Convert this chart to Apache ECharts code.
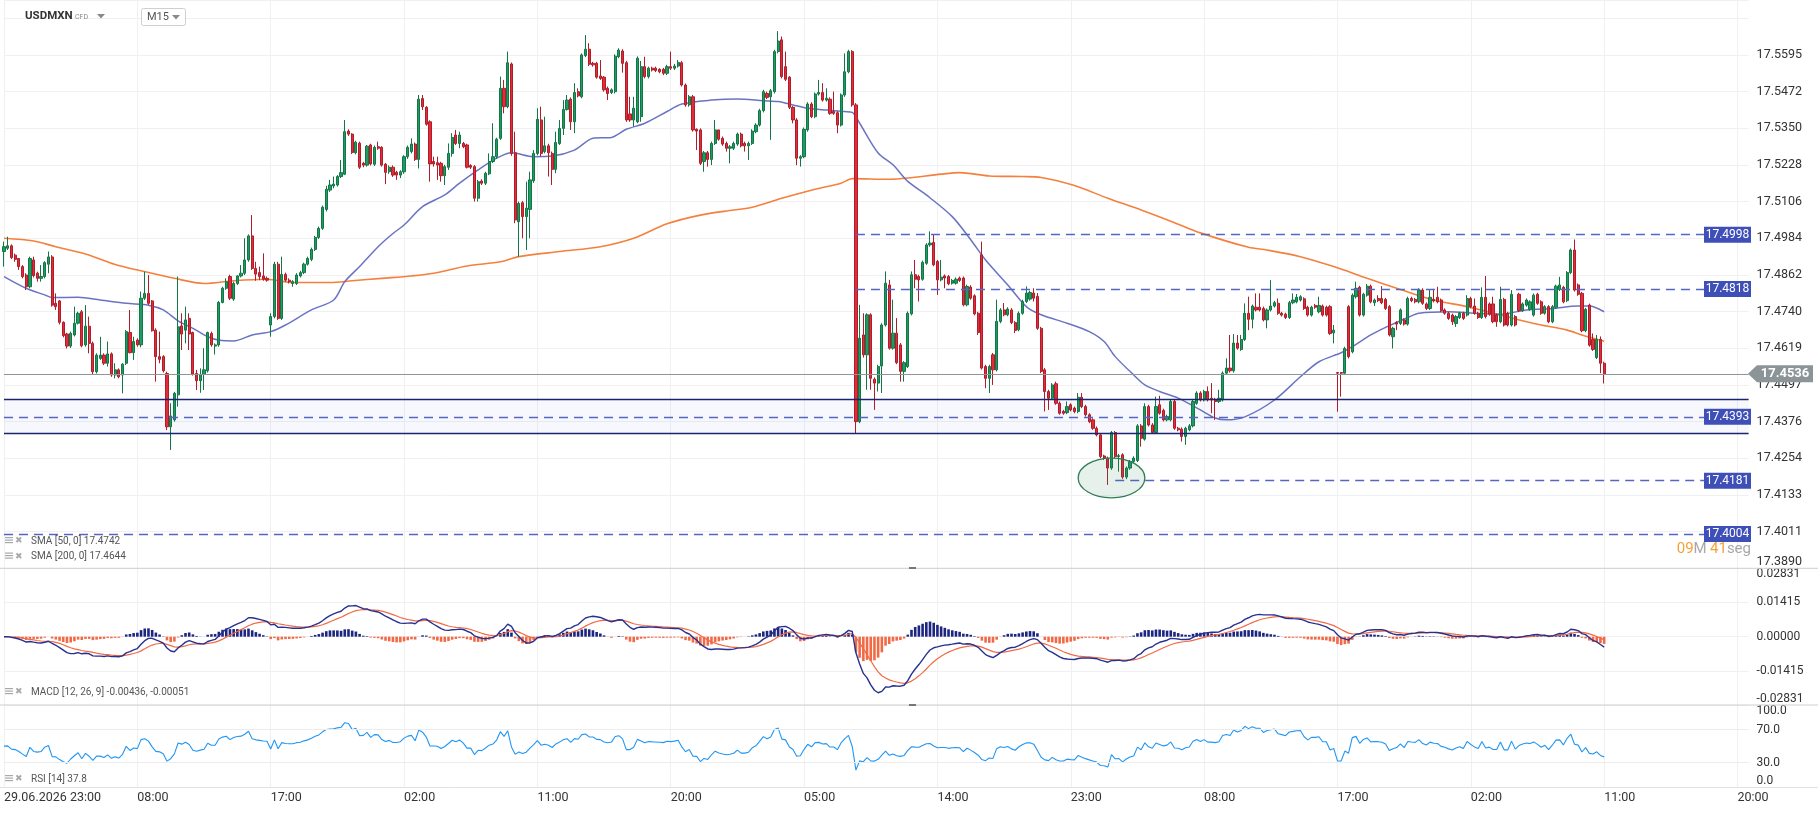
<!DOCTYPE html>
<html><head><meta charset="utf-8">
<script src="https://cdn.jsdelivr.net/npm/echarts@6/dist/echarts.min.js"></script>
<style>html,body{margin:0;padding:0;background:#fff}#c{width:1818px;height:813px}</style>
</head><body><div id="c"></div>
<script>
// ---------- tick labels ----------
const timeTicks = ['29.06.2026 23:00','08:00','17:00','02:00','11:00','20:00','05:00','14:00','23:00','08:00','17:00','02:00','11:00','20:00'];
const barsPerTick = 36;           // 9 hours of 15-minute bars
const categoryCount = 472;
const priceTicks = ['17.3890','17.4011','17.4133','17.4254','17.4376','17.4497','17.4619','17.4740','17.4862','17.4984','17.5106','17.5228','17.5350','17.5472','17.5595'];
const priceMin = 17.3890, priceStep = 0.012179, priceMax = 17.57774;
const macdTicks = ['-0.02831','-0.01415','0.00000','0.01415','0.02831'];
const macdMin = -0.02831, macdStep = 0.014155;
const rsiTicks = {0:'0.0',30:'30.0',70:'70.0',100:'100.0'};

// ---------- candles (15-minute bars) ----------
const opens = [
17.4942,17.4953,17.4961,17.4930,17.4919,17.4892,17.4864,17.4825,17.4914,17.4870,
17.4853,17.4859,17.4900,17.4924,17.4770,17.4778,17.4707,17.4668,17.4628,17.4665,
17.4704,17.4742,17.4632,17.4694,17.4637,17.4543,17.4587,17.4598,17.4571,17.4602,
17.4532,17.4549,17.4532,17.4571,17.4673,17.4606,17.4648,17.4632,17.4787,17.4803,
17.4778,17.4681,17.4593,17.4593,17.4537,17.4360,17.4383,17.4466,17.4695,17.4681,
17.4720,17.4673,17.4537,17.4513,17.4534,17.4546,17.4670,17.4628,17.4632,17.4773,
17.4820,17.4859,17.4784,17.4836,17.4861,17.4870,17.4914,17.4994,17.4886,17.4872,
17.4861,17.4853,17.4698,17.4726,17.4900,17.4720,17.4866,17.4847,17.4836,17.4836,
17.4861,17.4872,17.4900,17.4916,17.4949,17.4989,17.5019,17.5082,17.5146,17.5160,
17.5163,17.5191,17.5199,17.5342,17.5332,17.5270,17.5302,17.5235,17.5229,17.5296,
17.5232,17.5290,17.5288,17.5232,17.5207,17.5222,17.5205,17.5196,17.5207,17.5257,
17.5274,17.5299,17.5248,17.5450,17.5421,17.5373,17.5241,17.5237,17.5235,17.5194,
17.5222,17.5268,17.5329,17.5301,17.5301,17.5296,17.5228,17.5224,17.5119,17.5176,
17.5169,17.5200,17.5241,17.5257,17.5318,17.5484,17.5423,17.5565,17.5270,17.5041,
17.5104,17.5058,17.5082,17.5177,17.5268,17.5379,17.5274,17.5293,17.5268,17.5215,
17.5301,17.5351,17.5414,17.5448,17.5373,17.5473,17.5456,17.5593,17.5614,17.5567,
17.5567,17.5525,17.5521,17.5484,17.5470,17.5473,17.5589,17.5608,17.5569,17.5399,
17.5379,17.5373,17.5390,17.5556,17.5523,17.5551,17.5551,17.5547,17.5547,17.5534,
17.5556,17.5551,17.5558,17.5569,17.5495,17.5429,17.5456,17.5348,17.5346,17.5241,
17.5270,17.5248,17.5301,17.5346,17.5318,17.5301,17.5285,17.5285,17.5299,17.5332,
17.5301,17.5293,17.5301,17.5340,17.5362,17.5410,17.5467,17.5456,17.5473,17.5606,
17.5645,17.5556,17.5521,17.5421,17.5379,17.5252,17.5257,17.5346,17.5432,17.5390,
17.5465,17.5470,17.5445,17.5448,17.5407,17.5403,17.5362,17.5462,17.5539,17.5606,
17.5429,17.4377,17.4665,17.4599,17.4732,17.4518,17.4505,17.4562,17.4698,17.4831,
17.4621,17.4671,17.4632,17.4544,17.4560,17.4735,17.4865,17.4859,17.4850,17.4903,
17.4964,17.4972,17.4909,17.4848,17.4861,17.4859,17.4837,17.4837,17.4854,17.4854,
17.4765,17.4824,17.4795,17.4737,17.4931,17.4560,17.4521,17.4599,17.4549,17.4710,
17.4748,17.4732,17.4748,17.4706,17.4682,17.4737,17.4776,17.4784,17.4804,17.4793,
17.4687,17.4549,17.4477,17.4455,17.4503,17.4438,17.4411,17.4407,17.4433,17.4422,
17.4411,17.4458,17.4427,17.4400,17.4383,17.4355,17.4333,17.4263,17.4256,17.4223,
17.4341,17.4261,17.4267,17.4193,17.4223,17.4245,17.4248,17.4363,17.4319,17.4427,
17.4366,17.4341,17.4433,17.4414,17.4383,17.4383,17.4444,17.4355,17.4352,17.4328,
17.4350,17.4363,17.4438,17.4472,17.4449,17.4477,17.4455,17.4451,17.4444,17.4449,
17.4538,17.4555,17.4546,17.4638,17.4617,17.4650,17.4737,17.4717,17.4757,17.4757,
17.4753,17.4715,17.4748,17.4761,17.4770,17.4737,17.4734,17.4723,17.4772,17.4775,
17.4781,17.4785,17.4757,17.4731,17.4763,17.4742,17.4761,17.4757,17.4759,17.4672,
17.4540,17.4540,17.4538,17.4759,17.4609,17.4792,17.4823,17.4731,17.4797,17.4827,
17.4772,17.4786,17.4786,17.4783,17.4759,17.4659,17.4706,17.4703,17.4715,17.4701,
17.4786,17.4783,17.4775,17.4814,17.4768,17.4753,17.4783,17.4790,17.4781,17.4748,
17.4737,17.4731,17.4703,17.4723,17.4737,17.4731,17.4786,17.4761,17.4737,17.4723,
17.4790,17.4768,17.4768,17.4731,17.4709,17.4783,17.4737,17.4698,17.4726,17.4800,
17.4746,17.4764,17.4750,17.4731,17.4800,17.4775,17.4737,17.4759,17.4709,17.4757,
17.4816,17.4823,17.4779,17.4872,17.4947,17.4831,17.4803,17.4679,17.4764,17.4650,
17.4590,17.4650,17.4571];
const closes = [
17.4958,17.4961,17.4922,17.4916,17.4892,17.4859,17.4825,17.4919,17.4862,17.4853,
17.4859,17.4905,17.4924,17.4764,17.4759,17.4707,17.4663,17.4628,17.4670,17.4704,
17.4737,17.4629,17.4694,17.4637,17.4543,17.4598,17.4598,17.4571,17.4602,17.4532,
17.4549,17.4526,17.4568,17.4676,17.4606,17.4643,17.4632,17.4787,17.4803,17.4770,
17.4679,17.4593,17.4584,17.4546,17.4360,17.4396,17.4471,17.4692,17.4668,17.4715,
17.4668,17.4535,17.4513,17.4534,17.4549,17.4673,17.4632,17.4632,17.4773,17.4820,
17.4842,17.4787,17.4836,17.4861,17.4870,17.4914,17.4994,17.4886,17.4867,17.4859,
17.4850,17.4847,17.4726,17.4900,17.4720,17.4866,17.4847,17.4842,17.4842,17.4864,
17.4872,17.4900,17.4919,17.4949,17.4989,17.5019,17.5089,17.5149,17.5163,17.5166,
17.5191,17.5204,17.5340,17.5332,17.5271,17.5305,17.5222,17.5229,17.5292,17.5233,
17.5288,17.5285,17.5229,17.5205,17.5222,17.5196,17.5196,17.5207,17.5257,17.5288,
17.5299,17.5248,17.5448,17.5423,17.5365,17.5233,17.5233,17.5229,17.5194,17.5224,
17.5268,17.5321,17.5301,17.5329,17.5290,17.5222,17.5222,17.5119,17.5174,17.5169,
17.5202,17.5241,17.5257,17.5315,17.5484,17.5423,17.5569,17.5268,17.5047,17.5102,
17.5058,17.5086,17.5180,17.5268,17.5381,17.5268,17.5293,17.5270,17.5215,17.5304,
17.5351,17.5414,17.5445,17.5373,17.5470,17.5459,17.5595,17.5614,17.5564,17.5562,
17.5521,17.5517,17.5479,17.5467,17.5479,17.5591,17.5611,17.5567,17.5379,17.5379,
17.5418,17.5584,17.5556,17.5523,17.5551,17.5545,17.5543,17.5539,17.5534,17.5556,
17.5551,17.5558,17.5570,17.5495,17.5429,17.5456,17.5346,17.5342,17.5235,17.5270,
17.5248,17.5301,17.5346,17.5315,17.5299,17.5285,17.5290,17.5301,17.5332,17.5293,
17.5293,17.5301,17.5342,17.5362,17.5410,17.5473,17.5454,17.5476,17.5606,17.5641,
17.5523,17.5514,17.5421,17.5379,17.5252,17.5257,17.5348,17.5432,17.5390,17.5465,
17.5470,17.5445,17.5451,17.5401,17.5401,17.5362,17.5462,17.5539,17.5606,17.5429,
17.4377,17.4654,17.4599,17.4732,17.4521,17.4505,17.4560,17.4698,17.4837,17.4621,
17.4671,17.4573,17.4544,17.4573,17.4737,17.4865,17.4850,17.4848,17.4906,17.4964,
17.4970,17.4898,17.4848,17.4857,17.4854,17.4835,17.4846,17.4850,17.4846,17.4765,
17.4826,17.4787,17.4735,17.4673,17.4555,17.4521,17.4560,17.4549,17.4710,17.4748,
17.4732,17.4751,17.4706,17.4680,17.4737,17.4776,17.4804,17.4806,17.4787,17.4687,
17.4544,17.4477,17.4455,17.4499,17.4438,17.4405,17.4405,17.4427,17.4416,17.4411,
17.4458,17.4427,17.4400,17.4377,17.4355,17.4333,17.4261,17.4256,17.4223,17.4341,
17.4261,17.4264,17.4193,17.4223,17.4245,17.4256,17.4363,17.4322,17.4427,17.4366,
17.4341,17.4427,17.4405,17.4383,17.4394,17.4444,17.4355,17.4350,17.4328,17.4355,
17.4363,17.4444,17.4472,17.4449,17.4477,17.4449,17.4449,17.4444,17.4455,17.4538,
17.4555,17.4546,17.4638,17.4621,17.4650,17.4737,17.4717,17.4761,17.4748,17.4748,
17.4715,17.4748,17.4761,17.4772,17.4737,17.4731,17.4723,17.4772,17.4781,17.4790,
17.4792,17.4753,17.4731,17.4757,17.4757,17.4763,17.4731,17.4731,17.4670,17.4681,
17.4538,17.4538,17.4620,17.4593,17.4797,17.4820,17.4731,17.4800,17.4827,17.4775,
17.4781,17.4779,17.4772,17.4753,17.4665,17.4687,17.4701,17.4748,17.4701,17.4786,
17.4779,17.4775,17.4814,17.4770,17.4753,17.4790,17.4778,17.4775,17.4746,17.4737,
17.4720,17.4709,17.4726,17.4737,17.4720,17.4786,17.4759,17.4737,17.4723,17.4790,
17.4726,17.4734,17.4709,17.4709,17.4783,17.4698,17.4698,17.4800,17.4698,17.4746,
17.4768,17.4781,17.4775,17.4797,17.4770,17.4737,17.4759,17.4709,17.4759,17.4827,
17.4831,17.4775,17.4872,17.4947,17.4814,17.4800,17.4679,17.4750,17.4631,17.4617,
17.4650,17.4571,17.4536];
const highs = [
17.4975,17.4991,17.4966,17.4935,17.4919,17.4897,17.4870,17.4925,17.4925,17.4875,
17.4897,17.4910,17.4942,17.4930,17.4803,17.4781,17.4710,17.4672,17.4676,17.4759,
17.4742,17.4748,17.4764,17.4726,17.4643,17.4604,17.4659,17.4604,17.4643,17.4607,
17.4571,17.4554,17.4571,17.4681,17.4748,17.4659,17.4654,17.4809,17.4875,17.4864,
17.4781,17.4687,17.4676,17.4598,17.4543,17.4438,17.4476,17.4859,17.4737,17.4759,
17.4737,17.4676,17.4549,17.4554,17.4621,17.4676,17.4676,17.4637,17.4778,17.4825,
17.4853,17.4865,17.4842,17.4864,17.4897,17.4986,17.4999,17.5063,17.4908,17.4892,
17.4936,17.4859,17.4737,17.4908,17.4908,17.4925,17.4872,17.4853,17.4847,17.4870,
17.4878,17.4905,17.4925,17.4955,17.4994,17.5025,17.5095,17.5160,17.5180,17.5191,
17.5196,17.5246,17.5379,17.5348,17.5335,17.5310,17.5307,17.5240,17.5296,17.5300,
17.5294,17.5307,17.5292,17.5236,17.5228,17.5228,17.5210,17.5212,17.5262,17.5294,
17.5318,17.5304,17.5462,17.5462,17.5425,17.5378,17.5257,17.5257,17.5240,17.5230,
17.5301,17.5335,17.5346,17.5340,17.5306,17.5300,17.5232,17.5229,17.5180,17.5182,
17.5207,17.5268,17.5368,17.5320,17.5523,17.5512,17.5606,17.5570,17.5340,17.5108,
17.5110,17.5174,17.5207,17.5279,17.5418,17.5423,17.5390,17.5300,17.5274,17.5340,
17.5379,17.5445,17.5462,17.5454,17.5501,17.5484,17.5600,17.5661,17.5634,17.5572,
17.5572,17.5578,17.5525,17.5490,17.5484,17.5597,17.5617,17.5614,17.5575,17.5456,
17.5456,17.5590,17.5575,17.5589,17.5556,17.5556,17.5556,17.5551,17.5552,17.5562,
17.5606,17.5565,17.5578,17.5575,17.5500,17.5462,17.5462,17.5351,17.5351,17.5276,
17.5276,17.5307,17.5379,17.5346,17.5324,17.5307,17.5296,17.5307,17.5337,17.5337,
17.5307,17.5307,17.5348,17.5368,17.5416,17.5479,17.5473,17.5482,17.5612,17.5674,
17.5656,17.5606,17.5525,17.5425,17.5385,17.5262,17.5354,17.5438,17.5438,17.5470,
17.5512,17.5501,17.5484,17.5454,17.5473,17.5408,17.5467,17.5600,17.5612,17.5611,
17.5435,17.4765,17.4737,17.4737,17.4737,17.4524,17.4566,17.4704,17.4876,17.4848,
17.4782,17.4721,17.4638,17.4578,17.4743,17.4876,17.4914,17.4865,17.4912,17.4970,
17.5009,17.4998,17.4914,17.4914,17.4866,17.4864,17.4851,17.4856,17.4859,17.4859,
17.4832,17.4830,17.4800,17.4742,17.4975,17.4566,17.4566,17.4605,17.4782,17.4754,
17.4771,17.4757,17.4754,17.4711,17.4743,17.4782,17.4826,17.4812,17.4820,17.4804,
17.4692,17.4555,17.4483,17.4505,17.4510,17.4444,17.4416,17.4444,17.4438,17.4427,
17.4472,17.4472,17.4433,17.4405,17.4388,17.4361,17.4339,17.4267,17.4261,17.4346,
17.4346,17.4270,17.4272,17.4228,17.4250,17.4262,17.4369,17.4369,17.4438,17.4433,
17.4372,17.4460,17.4463,17.4420,17.4400,17.4450,17.4450,17.4360,17.4358,17.4360,
17.4369,17.4450,17.4478,17.4478,17.4483,17.4494,17.4505,17.4456,17.4483,17.4544,
17.4587,17.4665,17.4668,17.4665,17.4665,17.4770,17.4792,17.4766,17.4803,17.4803,
17.4759,17.4753,17.4847,17.4778,17.4786,17.4742,17.4739,17.4778,17.4803,17.4801,
17.4797,17.4790,17.4762,17.4762,17.4768,17.4792,17.4766,17.4762,17.4764,17.4698,
17.4542,17.4542,17.4626,17.4764,17.4803,17.4842,17.4828,17.4805,17.4834,17.4832,
17.4786,17.4797,17.4827,17.4788,17.4764,17.4692,17.4711,17.4753,17.4720,17.4792,
17.4792,17.4788,17.4820,17.4820,17.4773,17.4814,17.4818,17.4825,17.4786,17.4753,
17.4742,17.4736,17.4731,17.4742,17.4742,17.4797,17.4792,17.4786,17.4742,17.4823,
17.4861,17.4773,17.4792,17.4736,17.4825,17.4788,17.4742,17.4814,17.4731,17.4805,
17.4773,17.4786,17.4780,17.4803,17.4805,17.4780,17.4764,17.4764,17.4764,17.4832,
17.4858,17.4828,17.4877,17.4952,17.4982,17.4836,17.4808,17.4755,17.4769,17.4670,
17.4665,17.4660,17.4576];
const lows = [
17.4892,17.4947,17.4917,17.4908,17.4881,17.4853,17.4814,17.4820,17.4856,17.4842,
17.4842,17.4853,17.4870,17.4759,17.4748,17.4700,17.4657,17.4620,17.4622,17.4660,
17.4700,17.4624,17.4626,17.4604,17.4532,17.4537,17.4582,17.4565,17.4560,17.4526,
17.4521,17.4521,17.4471,17.4565,17.4604,17.4582,17.4626,17.4624,17.4781,17.4765,
17.4676,17.4510,17.4571,17.4540,17.4349,17.4283,17.4377,17.4427,17.4615,17.4637,
17.4615,17.4530,17.4482,17.4473,17.4482,17.4540,17.4626,17.4600,17.4626,17.4770,
17.4815,17.4781,17.4778,17.4831,17.4856,17.4864,17.4908,17.4881,17.4845,17.4847,
17.4845,17.4842,17.4659,17.4720,17.4715,17.4715,17.4842,17.4836,17.4825,17.4831,
17.4856,17.4867,17.4895,17.4910,17.4944,17.4984,17.5014,17.5075,17.5140,17.5152,
17.5158,17.5186,17.5196,17.5326,17.5266,17.5265,17.5216,17.5222,17.5224,17.5228,
17.5226,17.5280,17.5224,17.5166,17.5200,17.5190,17.5180,17.5186,17.5200,17.5250,
17.5268,17.5243,17.5218,17.5412,17.5360,17.5174,17.5224,17.5180,17.5174,17.5163,
17.5213,17.5257,17.5296,17.5285,17.5285,17.5218,17.5216,17.5108,17.5108,17.5163,
17.5163,17.5196,17.5236,17.5250,17.5313,17.5401,17.5418,17.5260,17.5036,17.4925,
17.4986,17.4947,17.4986,17.5170,17.5262,17.5257,17.5268,17.5191,17.5163,17.5202,
17.5296,17.5329,17.5410,17.5346,17.5335,17.5454,17.5451,17.5588,17.5558,17.5556,
17.5516,17.5512,17.5473,17.5445,17.5465,17.5467,17.5584,17.5536,17.5373,17.5373,
17.5357,17.5368,17.5373,17.5517,17.5517,17.5540,17.5538,17.5534,17.5528,17.5528,
17.5545,17.5545,17.5553,17.5490,17.5423,17.5423,17.5340,17.5279,17.5229,17.5207,
17.5224,17.5229,17.5296,17.5310,17.5293,17.5274,17.5235,17.5279,17.5293,17.5288,
17.5274,17.5246,17.5296,17.5335,17.5357,17.5404,17.5448,17.5313,17.5467,17.5600,
17.5517,17.5508,17.5415,17.5368,17.5229,17.5224,17.5252,17.5340,17.5385,17.5385,
17.5460,17.5440,17.5440,17.5396,17.5396,17.5335,17.5357,17.5456,17.5534,17.5423,
17.4339,17.4372,17.4590,17.4483,17.4483,17.4416,17.4477,17.4472,17.4693,17.4616,
17.4616,17.4568,17.4510,17.4510,17.4555,17.4730,17.4820,17.4776,17.4845,17.4898,
17.4958,17.4893,17.4798,17.4843,17.4820,17.4830,17.4832,17.4832,17.4841,17.4760,
17.4760,17.4782,17.4730,17.4665,17.4550,17.4488,17.4472,17.4499,17.4544,17.4704,
17.4727,17.4727,17.4701,17.4671,17.4677,17.4732,17.4771,17.4779,17.4776,17.4682,
17.4538,17.4411,17.4416,17.4449,17.4433,17.4400,17.4400,17.4402,17.4411,17.4405,
17.4405,17.4422,17.4394,17.4372,17.4350,17.4328,17.4256,17.4250,17.4167,17.4217,
17.4256,17.4211,17.4187,17.4186,17.4217,17.4240,17.4243,17.4294,17.4314,17.4361,
17.4336,17.4336,17.4400,17.4378,17.4378,17.4378,17.4350,17.4345,17.4311,17.4300,
17.4345,17.4358,17.4433,17.4444,17.4444,17.4444,17.4405,17.4383,17.4439,17.4444,
17.4533,17.4540,17.4540,17.4616,17.4612,17.4645,17.4681,17.4687,17.4743,17.4743,
17.4710,17.4687,17.4743,17.4756,17.4732,17.4726,17.4718,17.4718,17.4767,17.4770,
17.4776,17.4748,17.4726,17.4726,17.4752,17.4737,17.4726,17.4726,17.4665,17.4637,
17.4410,17.4460,17.4532,17.4587,17.4604,17.4786,17.4726,17.4726,17.4792,17.4770,
17.4761,17.4774,17.4767,17.4748,17.4660,17.4620,17.4681,17.4698,17.4696,17.4696,
17.4774,17.4770,17.4770,17.4765,17.4748,17.4748,17.4773,17.4770,17.4741,17.4732,
17.4715,17.4698,17.4692,17.4718,17.4715,17.4726,17.4754,17.4732,17.4718,17.4718,
17.4720,17.4729,17.4704,17.4692,17.4704,17.4693,17.4693,17.4693,17.4693,17.4741,
17.4741,17.4759,17.4745,17.4726,17.4765,17.4732,17.4732,17.4704,17.4704,17.4752,
17.4811,17.4770,17.4774,17.4867,17.4809,17.4795,17.4674,17.4674,17.4626,17.4612,
17.4585,17.4538,17.4504];

// ---------- moving averages: [bar index, value] ----------
const sma50 = [[0,17.4859],[6,17.4820],[11,17.4798],[13,17.4789],[20,17.4790],[26,17.4781],[33,17.4770],[39,17.4764],[43,17.4748],[47,17.4712],[51,17.4687],[55,17.4659],[58,17.4648],[62,17.4645],[67,17.4665],[72,17.4676],[76,17.4698],[83,17.4748],[89,17.4781],[92,17.4842],[96,17.4892],[101,17.4958],[105,17.5002],[108,17.5030],[113,17.5091],[119,17.5130],[123,17.5169],[128,17.5213],[133,17.5252],[137,17.5270],[143,17.5257],[148,17.5259],[154,17.5279],[159,17.5318],[164,17.5321],[168,17.5348],[173,17.5368],[179,17.5407],[183,17.5432],[191,17.5445],[198,17.5449],[205,17.5443],[209,17.5440],[213,17.5429],[217,17.5418],[222,17.5412],[227,17.5407],[229,17.5404],[231,17.5368],[236,17.5269],[240,17.5230],[244,17.5175],[249,17.5130],[256,17.5058],[261,17.4981],[265,17.4914],[271,17.4831],[276,17.4759],[280,17.4732],[287,17.4704],[293,17.4676],[297,17.4643],[300,17.4593],[305,17.4532],[308,17.4499],[312,17.4477],[317,17.4455],[323,17.4416],[327,17.4389],[330,17.4383],[335,17.4393],[343,17.4449],[350,17.4526],[355,17.4576],[361,17.4606],[364,17.4626],[369,17.4665],[373,17.4690],[379,17.4723],[382,17.4737],[390,17.4742],[397,17.4737],[404,17.4734],[411,17.4748],[418,17.4753],[425,17.4761],[428,17.4761],[432,17.4742]];
const sma200 = [[0,17.4986],[8,17.4977],[14,17.4958],[22,17.4934],[30,17.4899],[37,17.4878],[46,17.4853],[54,17.4836],[62,17.4845],[71,17.4850],[78,17.4839],[88,17.4839],[94,17.4845],[102,17.4853],[110,17.4861],[116,17.4870],[125,17.4894],[134,17.4908],[139,17.4925],[150,17.4942],[161,17.4958],[170,17.4986],[179,17.5034],[188,17.5063],[197,17.5080],[202,17.5089],[210,17.5119],[219,17.5149],[226,17.5169],[229,17.5184],[239,17.5182],[244,17.5186],[253,17.5199],[258,17.5204],[266,17.5193],[275,17.5191],[280,17.5188],[289,17.5161],[298,17.5119],[307,17.5080],[316,17.5038],[323,17.5004],[336,17.4956],[341,17.4947],[350,17.4925],[359,17.4892],[368,17.4853],[377,17.4816],[386,17.4781],[395,17.4759],[404,17.4731],[413,17.4703],[422,17.4681],[426,17.4665],[432,17.4644]];

// ---------- drawn levels ----------
const zoneLow = 17.4338, zoneHigh = 17.4451;
const lastPrice = 17.4536;
const fullLevels = [17.4393, 17.4004];
const partialLevels = [[230,17.4998],[230,17.4818],[300,17.4181]];
const levelTags = [17.4998, 17.4818, 17.4393, 17.4181, 17.4004];
const ellipseCenter = [299, 17.4190], ellipseHalfBars = 9, ellipseHalfPrice = 0.0066;

// ---------- indicators derived from the closes ----------
function ema(arr, n){ const k = 2/(n+1); const out=[]; let p = arr[0]; for (let i=0;i<arr.length;i++){ p = i===0 ? arr[0] : p + k*(arr[i]-p); out.push(p);} return out; }
const e12 = ema(closes,12), e26 = ema(closes,26);
const macdLine = e12.map((v,i)=>v-e26[i]);
const signalLine = ema(macdLine,9);
const hist = macdLine.map((v,i)=>v-signalLine[i]);
const rsi = [];
(function(){ let s=0; for(let i=1;i<=14;i++) s+=Math.abs(closes[i]-closes[i-1]); let ag=s/28, al=s/28;
  rsi.push(50);
  for(let i=1;i<closes.length;i++){ const ch=closes[i]-closes[i-1]; ag=(ag*13+Math.max(ch,0))/14; al=(al*13+Math.max(-ch,0))/14; rsi.push(al===0?100:100-100/(1+ag/al)); }
})();

const categories = Array.from({length: categoryCount}, (_, i) => String(i));
const candleData = opens.map((o,i)=>[o, closes[i], lows[i], highs[i]]);

const FONT = 'Roboto, "Noto Sans", sans-serif';
const chart = echarts.init(document.getElementById('c'), null, {renderer:'canvas'});
const gridL = 4, gridR = 69.4;
function xAxisFor(g){
  return {type:'category', gridIndex:g, data:categories, boundaryGap:false,
    axisLine:{show:false}, axisTick:{show:false},
    splitLine:{show:true, interval:barsPerTick-1, lineStyle:{color:'#f0f0f2', width:1}},
    axisLabel: g===2 ? {show:true, interval:barsPerTick-1, align:'left', margin:4, color:'#333', fontSize:12.5, fontFamily:FONT,
      formatter:(v,idx)=> idx % barsPerTick === 0 ? (timeTicks[idx/barsPerTick] || '') : ''} : {show:false}};
}
const option = {
  animation:false, backgroundColor:'#ffffff', textStyle:{fontFamily:FONT},
  grid:[
    {left:gridL, right:gridR, top:0, height:568.3, outerBoundsMode:'none', containLabel:false},
    {left:gridL, right:gridR, top:568, height:137.4, outerBoundsMode:'none', containLabel:false},
    {left:gridL, right:gridR, top:705, height:82.3, outerBoundsMode:'none', containLabel:false}
  ],
  xAxis:[xAxisFor(0), xAxisFor(1), xAxisFor(2)],
  yAxis:[
    {type:'value', gridIndex:0, position:'right', min:priceMin, max:priceMax, interval:priceStep,
     axisLine:{show:false}, axisTick:{show:false}, splitLine:{lineStyle:{color:'#f0f0f2'}},
     axisLabel:{margin:8, color:'#333', fontSize:12.5, fontFamily:FONT, verticalAlignMinLabel:'bottom',
       formatter:v=>{ const k=Math.round((v-priceMin)/priceStep); return Math.abs(priceMin+k*priceStep-v)<1e-7 ? (priceTicks[k]||'') : ''; }}},
    {type:'value', gridIndex:1, position:'right', min:macdMin, max:-macdMin, interval:macdStep,
     axisLine:{show:false}, axisTick:{show:false}, splitLine:{lineStyle:{color:'#f0f0f2'}},
     axisLabel:{margin:8, color:'#333', fontSize:12, fontFamily:FONT, verticalAlignMinLabel:'bottom', verticalAlignMaxLabel:'top',
       formatter:v=>{ const k=Math.round((v-macdMin)/macdStep); return macdTicks[k]||''; }}},
    {type:'value', gridIndex:2, position:'right', min:0, max:100, interval:10,
     axisLine:{show:false}, axisTick:{show:false}, splitLine:{show:false},
     axisLabel:{margin:8, color:'#333', fontSize:12, fontFamily:FONT, verticalAlignMinLabel:'bottom', verticalAlignMaxLabel:'top',
       formatter:v=> rsiTicks[Math.round(v)] || ''}}
  ],
  series:[
    {type:'line', name:'SMA200', xAxisIndex:0, yAxisIndex:0, data:sma200, showSymbol:false, smooth:0.3, z:2,
     lineStyle:{color:'#f5803e', width:1.6}},
    {type:'line', name:'SMA50', xAxisIndex:0, yAxisIndex:0, data:sma50, showSymbol:false, smooth:0.3, z:2,
     lineStyle:{color:'#5a64bd', width:1.5, opacity:0.9}},
    {type:'candlestick', xAxisIndex:0, yAxisIndex:0, data:candleData, barWidth:'72%', clip:false, z:3,
     itemStyle:{color:'#1f9a62', color0:'#df2d3b', borderColor:'#127646', borderColor0:'#b01d29', borderWidth:1},
     markArea:{silent:true, itemStyle:{color:'rgba(80,100,210,0.045)'}, data:[[{yAxis:zoneLow},{yAxis:zoneHigh}]]},
     markLine:{silent:true, precision:6, symbol:['none','none'], label:{show:false}, animation:false,
       data:[
         {yAxis:zoneHigh, lineStyle:{color:'#1b2470', type:'solid', width:1.3}},
         {yAxis:zoneLow, lineStyle:{color:'#1b2470', type:'solid', width:1.3}},
         {yAxis:lastPrice, lineStyle:{color:'#8f9699', type:'solid', width:1.2}},
         ...fullLevels.map(v=>({yAxis:v, lineStyle:{color:'#5565c4', type:[9,6], width:1.3}})),
         ...partialLevels.map(([s,v])=>[{coord:[s,v], lineStyle:{color:'#5565c4', type:[9,6], width:1.3}},{coord:[categoryCount-1,v]}])
       ]}},
    {type:'bar', xAxisIndex:1, yAxisIndex:1, data:hist, barWidth:2.6,
     itemStyle:{color:p=> p.value>=0 ? '#1c2580' : '#f26a45'}},
    {type:'line', xAxisIndex:1, yAxisIndex:1, data:signalLine, showSymbol:false, lineStyle:{color:'#f26a45', width:1.2}},
    {type:'line', xAxisIndex:1, yAxisIndex:1, data:macdLine, showSymbol:false, lineStyle:{color:'#27318f', width:1.4}},
    {type:'line', xAxisIndex:2, yAxisIndex:2, data:rsi, showSymbol:false, lineStyle:{color:'#2196f3', width:1.1},
     markLine:{silent:true, precision:2, symbol:['none','none'], label:{show:false}, data:[{yAxis:70},{yAxis:30}], lineStyle:{color:'#ececee', type:'solid', width:1}}}
  ]
};
chart.setOption(option);

// ---------- overlays positioned through the chart's scales ----------
const g = [];
const py = v => chart.convertToPixel({gridIndex:0}, [0, v])[1];
levelTags.forEach(v=>{
  const y = py(v);
  g.push({type:'rect', shape:{x:1704, y:y-8, width:47, height:16}, style:{fill:'#3f4fb8'}, z:50});
  g.push({type:'text', x:1727.5, y:y, style:{text:v.toFixed(4), fill:'#fff', font:'12px '+FONT, align:'center', verticalAlign:'middle'}, z:51});
});
{
  const y = py(lastPrice);
  g.push({type:'polygon', shape:{points:[[1748,y],[1757,y-8.5],[1813,y-8.5],[1813,y+8.5],[1757,y+8.5]]}, style:{fill:'#8b9497'}, z:50});
  g.push({type:'text', x:1785, y:y, style:{text:lastPrice.toFixed(4), fill:'#fff', font:'bold 13px '+FONT, align:'center', verticalAlign:'middle'}, z:51});
}
{
  const c = chart.convertToPixel({gridIndex:0}, ellipseCenter);
  const r = chart.convertToPixel({gridIndex:0}, [ellipseCenter[0]+ellipseHalfBars, ellipseCenter[1]+ellipseHalfPrice]);
  g.push({type:'ellipse', shape:{cx:c[0], cy:c[1], rx:r[0]-c[0], ry:c[1]-r[1]}, style:{fill:'rgba(60,140,95,0.12)', stroke:'#2f7d55', lineWidth:1.3}, z:40});
}
// pane separators and bottom line
g.push({type:'line', shape:{x1:0,y1:568.3,x2:1818,y2:568.3}, style:{stroke:'#cfcfd2', lineWidth:1}, z:45});
g.push({type:'line', shape:{x1:0,y1:705,x2:1818,y2:705}, style:{stroke:'#cfcfd2', lineWidth:1}, z:45});
g.push({type:'line', shape:{x1:0,y1:787.5,x2:1818,y2:787.5}, style:{stroke:'#e2e2e4', lineWidth:1}, z:45});
g.push({type:'rect', shape:{x:909,y:567,width:7,height:2}, style:{fill:'#777'}, z:46});
g.push({type:'rect', shape:{x:909,y:704,width:7,height:2}, style:{fill:'#777'}, z:46});
// header
g.push({type:'text', x:25, y:16, style:{text:'USDMXN', fill:'#333', font:'bold 11.5px '+FONT, align:'left', verticalAlign:'middle'}, z:60});
g.push({type:'text', x:75, y:17, style:{text:'CFD', fill:'#8a8a8a', font:'7px '+FONT, align:'left', verticalAlign:'middle'}, z:60});
g.push({type:'polygon', shape:{points:[[97,14],[105,14],[101,18.5]]}, style:{fill:'#8a8a8a'}, z:60});
g.push({type:'rect', shape:{x:141.5,y:8.5,width:44,height:17, r:2}, style:{fill:'#fff', stroke:'#cfcfcf', lineWidth:1}, z:60});
g.push({type:'text', x:147, y:17, style:{text:'M15', fill:'#555', font:'11px '+FONT, align:'left', verticalAlign:'middle'}, z:61});
g.push({type:'polygon', shape:{points:[[172,15],[180,15],[176,19.5]]}, style:{fill:'#8a8a8a'}, z:61});
// legends
function legend(y, txt){
  [0,2.5,5].forEach(d=>g.push({type:'rect', shape:{x:5,y:y-4+d,width:8,height:1.2}, style:{fill:'#a9a9a9'}, z:60}));
  g.push({type:'text', x:15, y:y, style:{text:'✖', fill:'#a9a9a9', font:'9px "DejaVu Sans"', verticalAlign:'middle'}, z:60});
  g.push({type:'text', x:31, y:y, style:{text:txt, fill:'#555', font:'10px '+FONT, verticalAlign:'middle'}, z:60});
}
legend(541, 'SMA [50, 0] 17.4742');
legend(556.5, 'SMA [200, 0] 17.4644');
legend(692, 'MACD [12, 26, 9] -0.00436, -0.00051');
legend(779, 'RSI [14] 37.8');
// bar countdown
g.push({type:'text', x:1751, y:549, style:{text:'{o|09}{g|M} {o|41}{g|seg}', align:'right', verticalAlign:'middle',
  rich:{o:{fill:'#f5a03a', font:'15px '+FONT}, g:{fill:'#a8a8a8', font:'15px '+FONT}}}, z:60});
chart.setOption({graphic:g});
</script>
</body></html>
